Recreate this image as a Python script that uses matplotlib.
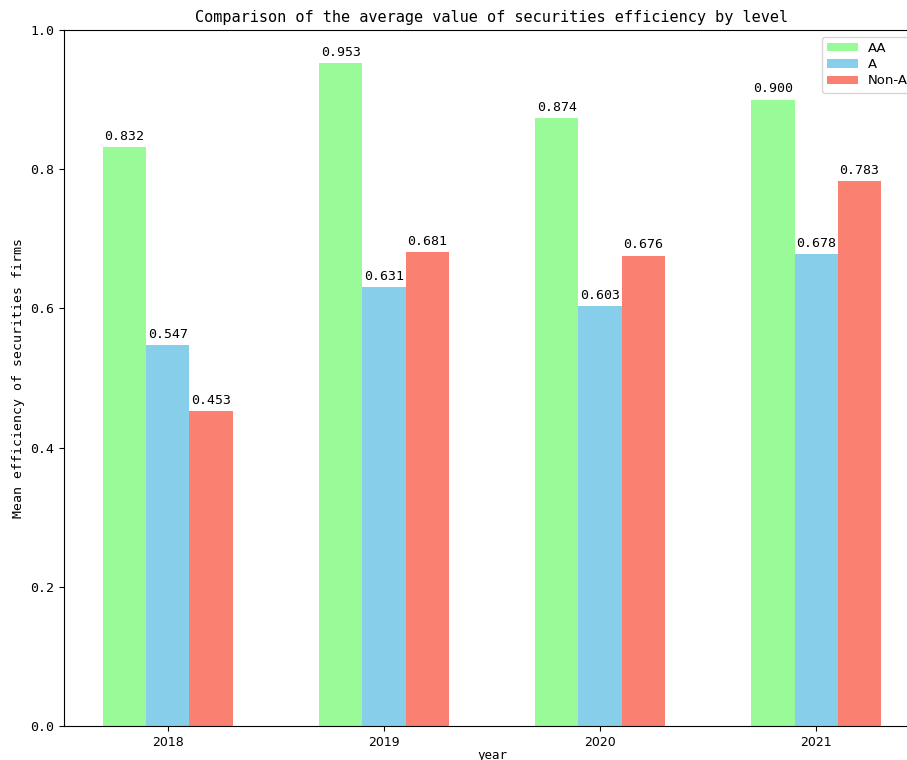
import numpy as np
import matplotlib.pyplot as plt

years = ['2018', '2019', '2020', '2021']
aa = [0.832, 0.953, 0.874, 0.900]
a = [0.547, 0.631, 0.603, 0.678]
non_a = [0.453, 0.681, 0.676, 0.783]

mono = 'DejaVu Sans Mono'

fig = plt.figure(figsize=(9.07, 7.6), dpi=100)
ax = fig.add_axes([64 / 907, 34 / 760, 856 / 907, 696 / 760])

x = np.arange(len(years))
w = 0.2
series = [(aa, 'AA', '#98FB98', -w), (a, 'A', '#87CEEB', 0), (non_a, 'Non-A', '#FA8072', w)]
for vals, name, col, off in series:
    ax.bar(x + off, vals, width=w, color=col, label=name)
    for xi, v in zip(x + off, vals):
        ax.text(xi, v + 0.006, f'{v:.3f}', ha='center', va='bottom',
                fontsize=9.5, family=mono)

ax.set_ylim(0, 1.0)
ax.set_xticks(x)
ax.set_xticklabels(years, fontsize=9)
ax.set_yticks([0, 0.2, 0.4, 0.6, 0.8, 1.0])
ax.set_yticklabels([f'{t:.1f}' for t in [0, 0.2, 0.4, 0.6, 0.8, 1.0]], fontsize=9.5, family=mono)
ax.set_xlabel('year', fontsize=9, family=mono, labelpad=0)
ax.set_ylabel('Mean efficiency of securities firms', fontsize=9.5, family=mono)
ax.set_title('Comparison of the average value of securities efficiency by level',
             fontsize=11, family=mono)
ax.legend(loc='upper right', fontsize=9.5, handlelength=2.3, labelspacing=0.25,
          handleheight=0.6)

fig.savefig('out.png', dpi=100)
